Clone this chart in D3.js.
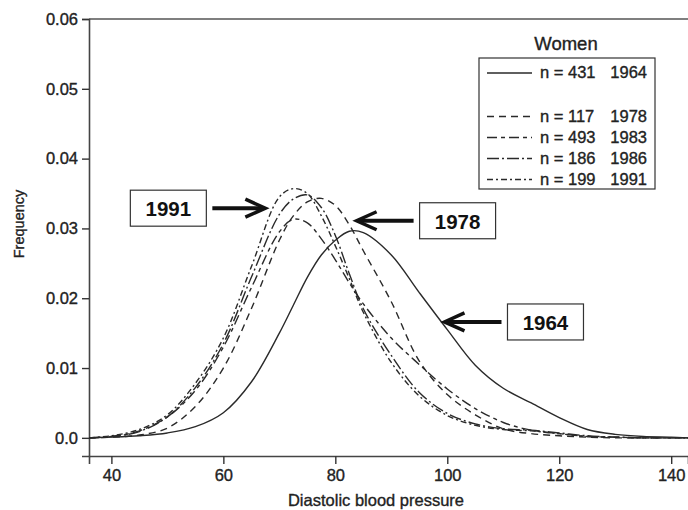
<!DOCTYPE html>
<html>
<head>
<meta charset="utf-8">
<script src="https://cdn.jsdelivr.net/npm/d3@7"></script>
<style>
	body { margin: 0; background: #fff; }
	svg { display: block; font-family: "Liberation Sans", Arial, sans-serif; }
	.heavy { stroke: #222; stroke-width: 0.35; paint-order: stroke; }
</style>
</head>
<body>
<div id="chart"></div>
<script>
// Diastolic blood pressure grid (x values shared by all curves)
const bp = [36, 40, 45, 50, 55, 60, 65, 70, 72.5, 75, 77.5, 80, 82.5, 85, 90, 95, 100, 105, 110, 115, 120, 125, 130, 135, 140, 143];

// Frequency per survey year
const f1964 = [0, 0.0001, 0.0003, 0.0007, 0.0016, 0.0036, 0.0080, 0.0150, 0.0190, 0.0230, 0.0262, 0.0283, 0.0296, 0.0294, 0.0262, 0.0208, 0.0155, 0.0104, 0.0071, 0.0050, 0.0029, 0.0012, 0.0005, 0.0002, 0.0001, 0];
const f1978 = [0, 0.0001, 0.0004, 0.0014, 0.0045, 0.0100, 0.0185, 0.0283, 0.0318, 0.0338, 0.0343, 0.0333, 0.0305, 0.0268, 0.0195, 0.0110, 0.0062, 0.0033, 0.0013, 0.0006, 0.0003, 0.0001, 0, 0, 0, 0];
const f1983 = [0, 0.0002, 0.0010, 0.0030, 0.0068, 0.0130, 0.0215, 0.0295, 0.0313, 0.0308, 0.0285, 0.0255, 0.0222, 0.0192, 0.0143, 0.0105, 0.0070, 0.0042, 0.0022, 0.0011, 0.0006, 0.0002, 0.0001, 0, 0, 0];
const f1986 = [0, 0.0002, 0.0009, 0.0030, 0.0072, 0.0135, 0.0230, 0.0320, 0.0342, 0.0348, 0.0330, 0.0290, 0.0235, 0.0185, 0.0118, 0.0065, 0.0035, 0.0020, 0.0013, 0.0011, 0.0007, 0.0003, 0.0001, 0, 0, 0];
const f1991 = [0, 0.0003, 0.0012, 0.0033, 0.0078, 0.0143, 0.0245, 0.0345, 0.0357, 0.0350, 0.0318, 0.0275, 0.0228, 0.0180, 0.0108, 0.0060, 0.0032, 0.0018, 0.0012, 0.0010, 0.0006, 0.0002, 0.0001, 0, 0, 0];

// Legend labels
const years = ["1964", "1978", "1983", "1986", "1991"];
const sampleSizes = [431, 117, 493, 186, 199];
const dashes = [null, "7,5", "10,4,4,4", "12,3,2,3", "6,3,2,3"];

// Axis ticks
const xTicks = [40, 60, 80, 100, 120, 140];
const yTicks = [0, 0.01, 0.02, 0.03, 0.04, 0.05, 0.06];

// Arrow call-outs: label and where the arrow tip lands (data units)
const callouts = [
	{ label: "1991", tipX: 67.5, tipY: 0.0329, dir: 1 },
	{ label: "1978", tipX: 83.8, tipY: 0.0311, dir: -1 },
	{ label: "1964", tipX: 99.5, tipY: 0.0166, dir: -1 },
];

const series = [f1964, f1978, f1983, f1986, f1991].map((values, i) => ({
	year: years[i],
	n: sampleSizes[i],
	dash: dashes[i],
	points: bp.map((x, j) => ({ x, y: values[j] })),
}));

const width = 688;
const height = 510;
const ink = "#222";

const x = d3.scaleLinear([36, 143], [89, 688]);
const y = d3.scaleLinear([-0.0026, 0.06], [456, 19]);

const svg = d3
	.select("#chart")
	.append("svg")
	.attr("width", width)
	.attr("height", height);

// Frame top line
svg.append("line")
	.attr("x1", x.range()[0]).attr("x2", width)
	.attr("y1", y.range()[1]).attr("y2", y.range()[1])
	.attr("stroke", "#555").attr("stroke-width", 1.6);

// Y axis
const yAxis = svg.append("g")
	.attr("transform", `translate(${x.range()[0]},0)`)
	.call(d3.axisLeft(y)
		.tickValues(yTicks)
		.tickSize(7)
		.tickPadding(4)
		.tickFormat((d) => d === 0 ? "0.0" : d.toFixed(2)));

// X axis
const xAxis = svg.append("g")
	.attr("transform", `translate(0,${y.range()[0]})`)
	.call(d3.axisBottom(x)
		.tickValues(xTicks)
		.tickSize(8)
		.tickPadding(5));

for (const axis of [xAxis, yAxis]) {
	axis.select(".domain").attr("stroke", "#444").attr("stroke-width", 1.6);
	axis.selectAll(".tick line").attr("stroke", "#333").attr("stroke-width", 1.4);
	axis.selectAll(".tick text")
		.attr("class", "heavy")
		.attr("fill", ink)
		.attr("font-size", 16.5)
		.attr("font-family", "Liberation Sans, Arial, sans-serif");
}

// Axis titles
svg.append("text")
	.attr("class", "heavy")
	.attr("x", 376)
	.attr("y", 506)
	.attr("text-anchor", "middle")
	.attr("font-size", 16.5)
	.attr("fill", ink)
	.text("Diastolic blood pressure");

svg.append("text")
	.attr("class", "heavy")
	.attr("transform", "translate(24,224) rotate(-90)")
	.attr("text-anchor", "middle")
	.attr("font-size", 14.5)
	.attr("fill", ink)
	.text("Frequency");

// Curves
const line = d3.line()
	.x((d) => x(d.x))
	.y((d) => Math.min(y(d.y), y(0)))
	.curve(d3.curveCatmullRom.alpha(0.5));

svg.append("g")
	.attr("fill", "none")
	.attr("stroke", "#2a2a2a")
	.attr("stroke-width", 1.4)
	.selectAll("path")
	.data(series)
	.join("path")
	.attr("stroke-dasharray", (d) => d.dash)
	.attr("d", (d) => line(d.points));

// Legend
const legend = svg.append("g");

legend.append("text")
	.attr("class", "heavy")
	.attr("x", 566)
	.attr("y", 50)
	.attr("text-anchor", "middle")
	.attr("font-size", 18.5)
	.attr("fill", ink)
	.text("Women");

legend.append("rect")
	.attr("x", 479)
	.attr("y", 58)
	.attr("width", 176)
	.attr("height", 131)
	.attr("fill", "none")
	.attr("stroke", "#333")
	.attr("stroke-width", 1.2);

const rowY = [78, 121.5, 142.5, 163.5, 184.5];

const row = legend.selectAll("g.row")
	.data(series)
	.join("g")
	.attr("class", "row")
	.attr("transform", (d, i) => `translate(0,${rowY[i]})`);

row.append("line")
	.attr("x1", 487).attr("x2", 532)
	.attr("y1", -5).attr("y2", -5)
	.attr("stroke", "#2a2a2a")
	.attr("stroke-width", 1.4)
	.attr("stroke-dasharray", (d) => d.dash);

row.append("text")
	.attr("class", "heavy")
	.attr("x", 540)
	.attr("font-size", 16.5)
	.attr("fill", ink)
	.text((d) => `n = ${d.n}`);

row.append("text")
	.attr("class", "heavy")
	.attr("x", 647)
	.attr("text-anchor", "end")
	.attr("font-size", 16.5)
	.attr("fill", ink)
	.text((d) => d.year);

// Call-out boxes with arrows
const boxW = 76;
const boxH = 36;
const shaft = 53;
// right-pointing boxes sit a little closer to their shaft than left-pointing ones
const gap = (d) => d.dir > 0 ? 6 : 10;

const callout = svg.append("g")
	.selectAll("g")
	.data(callouts)
	.join("g")
	.attr("transform", (d) => `translate(${x(d.tipX)},${y(d.tipY)})`);

// arrow shaft and open head; dir = 1 points right, -1 points left
callout.append("path")
	.attr("fill", "none")
	.attr("stroke", "#111")
	.attr("stroke-width", 4)
	.attr("d", (d) => `M${-d.dir * (shaft + gap(d) - 6)},0H${-d.dir * 2}`);

callout.append("path")
	.attr("fill", "none")
	.attr("stroke", "#111")
	.attr("stroke-width", 3.5)
	.attr("stroke-linejoin", "miter")
	.attr("d", (d) => `M${-d.dir * 20},-9L0,0L${-d.dir * 20},9`);

callout.append("rect")
	.attr("x", (d) => d.dir > 0 ? -shaft - gap(d) - boxW : shaft + gap(d))
	.attr("y", -boxH / 2)
	.attr("width", boxW)
	.attr("height", boxH)
	.attr("fill", "#fff")
	.attr("stroke", "#333")
	.attr("stroke-width", 1.2);

callout.append("text")
	.attr("x", (d) => d.dir > 0 ? -shaft - gap(d) - boxW / 2 : shaft + gap(d) + boxW / 2)
	.attr("y", 8)
	.attr("text-anchor", "middle")
	.attr("font-size", 20.5)
	.attr("font-weight", "bold")
	.attr("fill", "#111")
	.text((d) => d.label);
</script>
</body>
</html>
